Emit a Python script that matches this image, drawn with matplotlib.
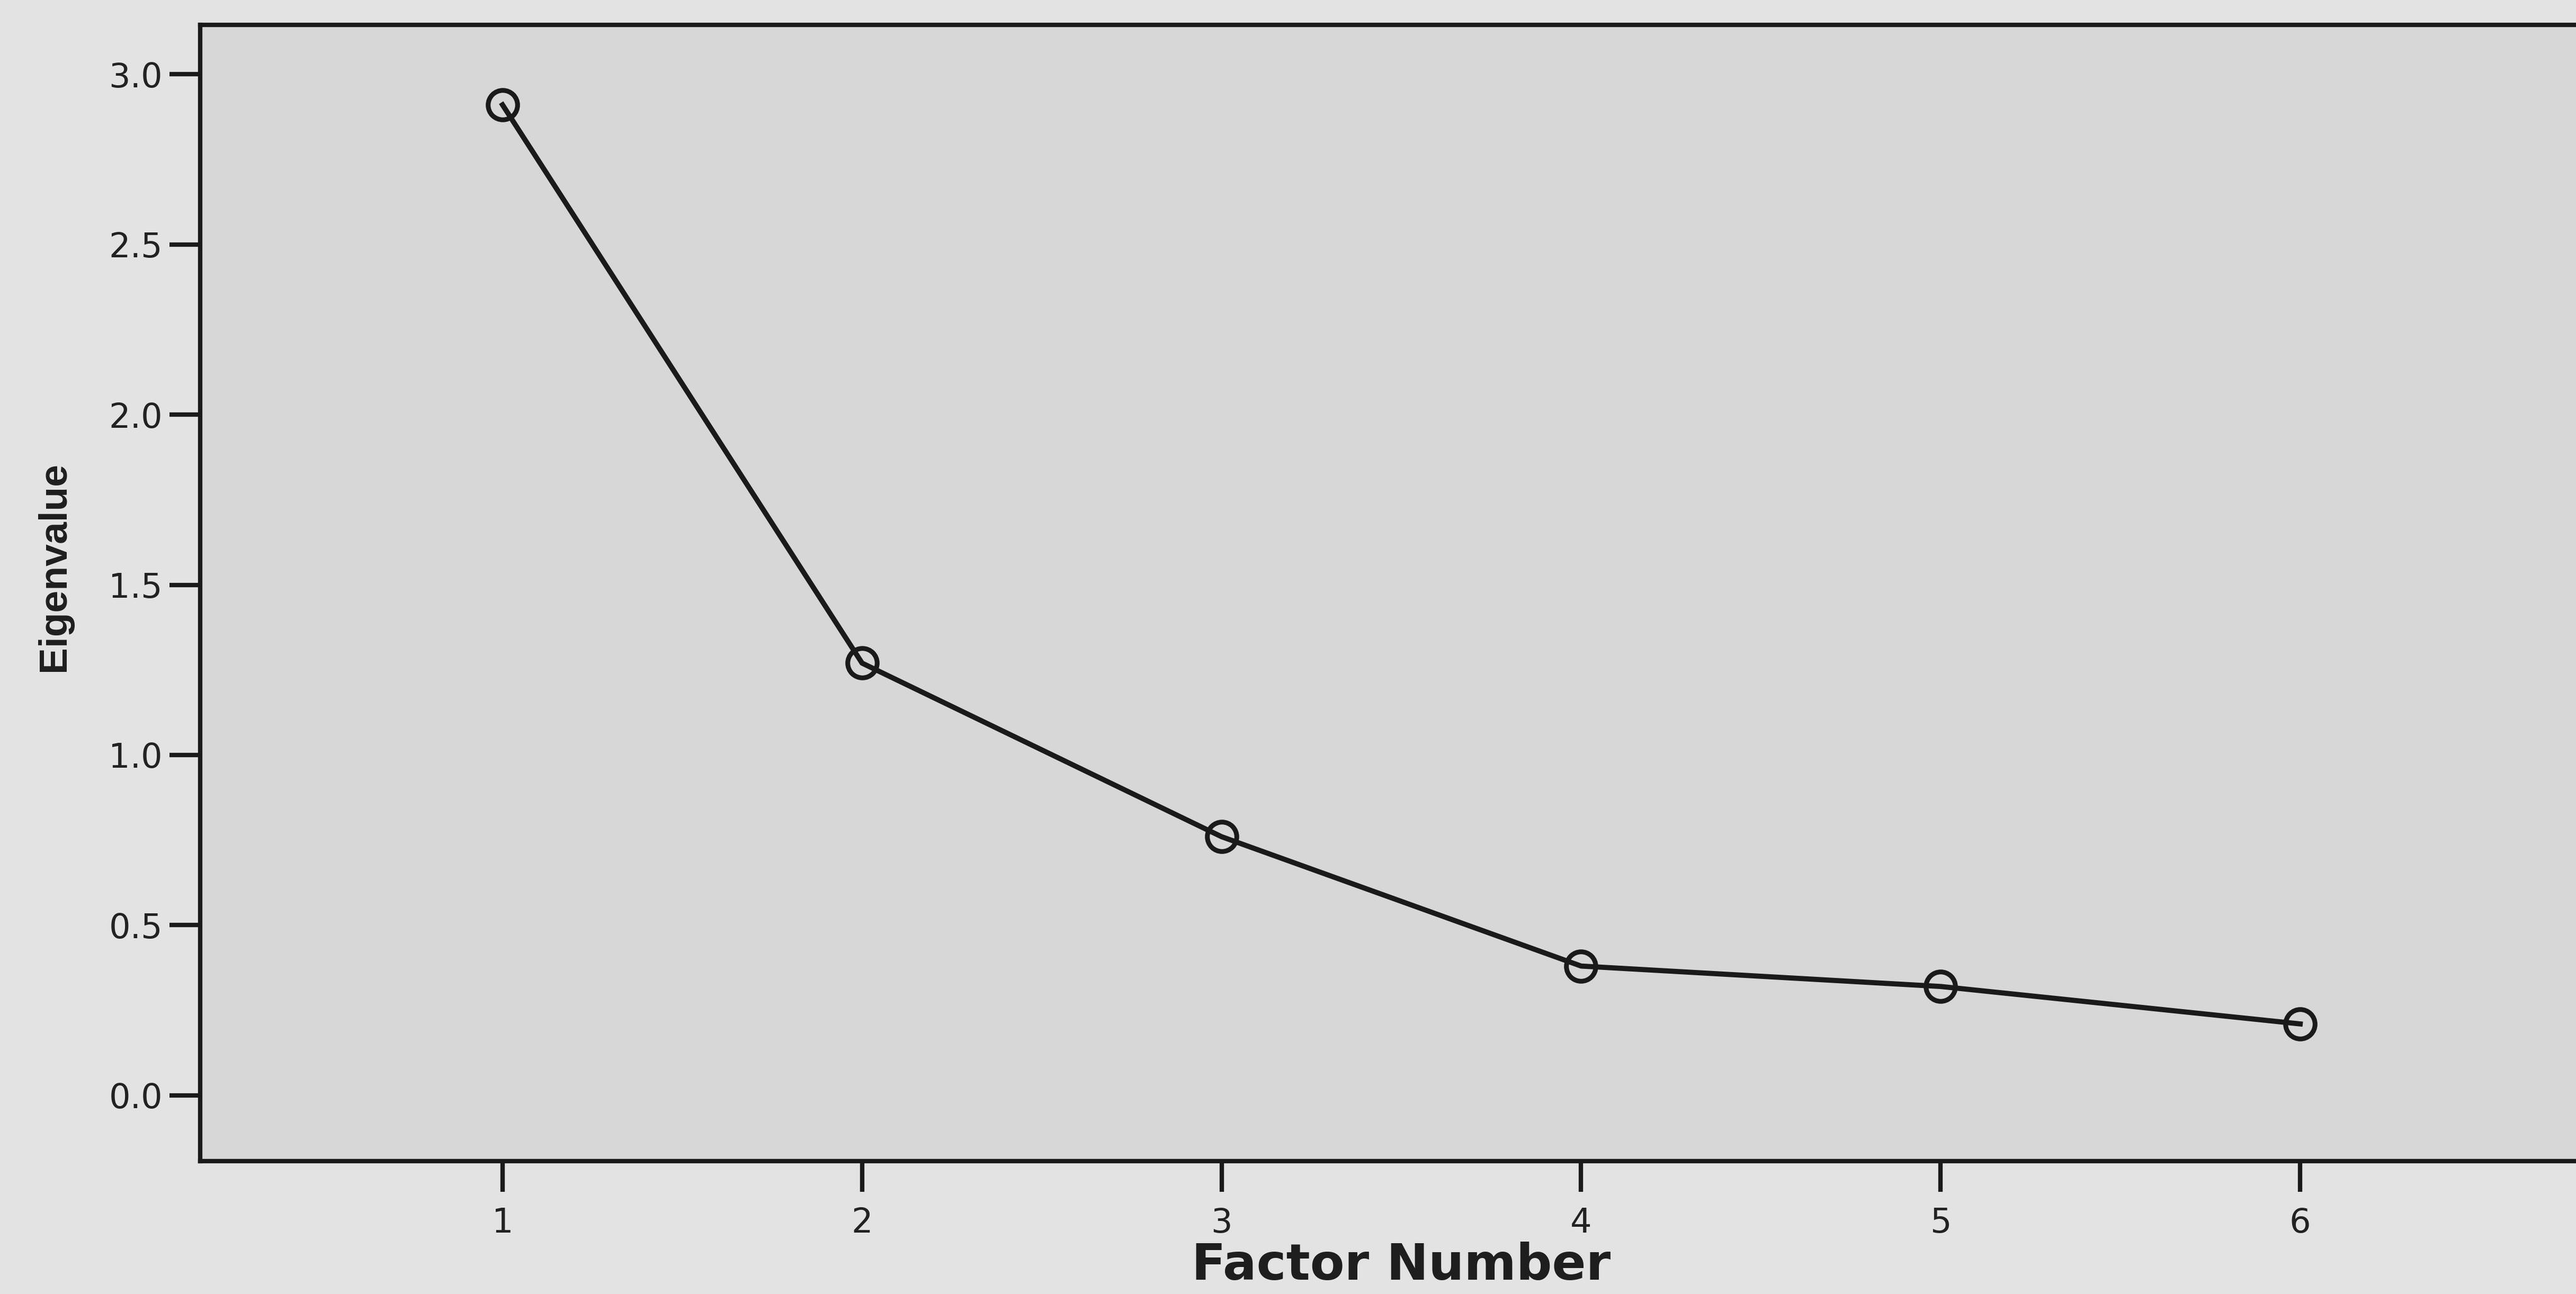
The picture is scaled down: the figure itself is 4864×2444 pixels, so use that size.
import matplotlib
matplotlib.use("Agg")
import matplotlib.pyplot as plt
from matplotlib.ticker import FormatStrFormatter

# scree plot values
factors = [1, 2, 3, 4, 5, 6]
eigenvalues = [2.91, 1.27, 0.76, 0.38, 0.32, 0.21]
yticks = [0.0, 0.5, 1.0, 1.5, 2.0, 2.5, 3.0]

fig = plt.figure(figsize=(48.64, 24.44), dpi=100, facecolor='#e3e3e3')
# the frame runs past the right edge of the page in the scan
ax = fig.add_axes([0.0777, 0.1027, 0.9548, 0.8781])
ax.set_facecolor('#d7d7d7')

ax.plot(factors, eigenvalues, color='#1a1a1a', lw=7,
        marker='o', ms=40, mfc='none', mec='#1a1a1a', mew=6.5)

ax.set_xlim(0.159, 7.0)
ax.set_ylim(-0.193, 3.145)
ax.set_xticks(factors)
ax.set_yticks(yticks)
ax.yaxis.set_major_formatter(FormatStrFormatter('%.1f'))

for s in ax.spines.values():
    s.set_linewidth(6)
    s.set_color('#1a1a1a')

ax.tick_params(axis='both', length=42, width=6, color='#1a1a1a',
               labelsize=46, labelcolor='#222222')
ax.tick_params(axis='y', pad=9)
ax.tick_params(axis='x', pad=20)

fig.text(0.544, 0.003, 'Factor Number', ha='center', va='bottom',
         fontsize=68, fontweight='bold', color='#1e1e1e')
fig.text(0.021, 0.562, 'Eigenvalue', rotation=90, ha='center', va='center',
         fontsize=54, fontweight='bold', color='#1e1e1e',
         family=['Liberation Sans', 'DejaVu Sans'])

fig.savefig('out.png', dpi=100, facecolor=fig.get_facecolor())
